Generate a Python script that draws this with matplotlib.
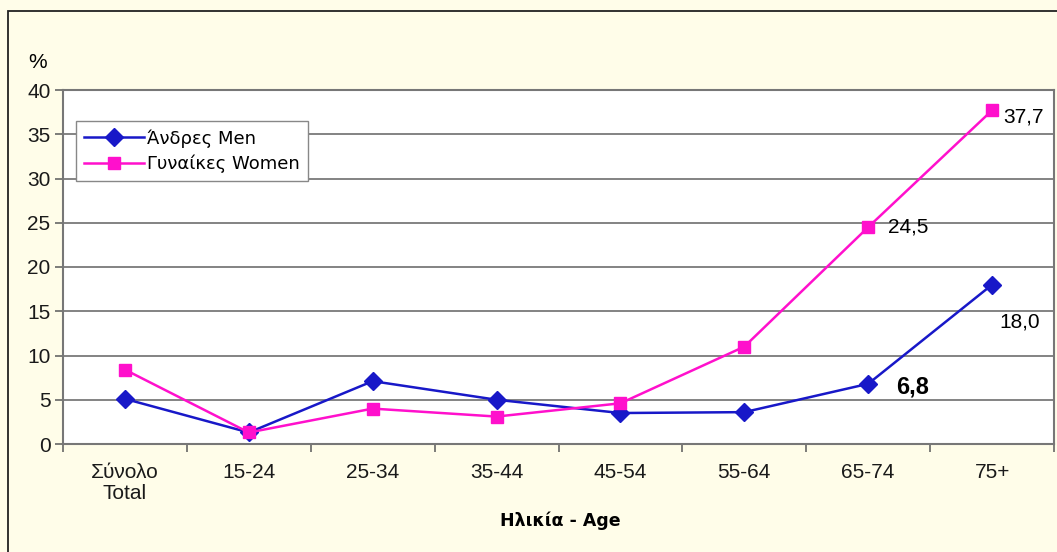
import numpy as np
import matplotlib.pyplot as plt
from matplotlib.patches import Rectangle

categories = ['Σύνολο\nTotal', '15-24', '25-34', '35-44', '45-54', '55-64', '65-74', '75+']
men = [5.1, 1.3, 7.1, 5.0, 3.5, 3.6, 6.8, 18.0]
women = [8.4, 1.3, 4.0, 3.1, 4.6, 11.0, 24.5, 37.7]
yticks = [0, 5, 10, 15, 20, 25, 30, 35, 40]

plt.rcParams['font.family'] = ['Liberation Sans', 'DejaVu Sans']

bg = '#FFFDE9'
blue = '#1818C8'
pink = '#FF10CC'
fig = plt.figure(figsize=(10.57, 5.52), dpi=100, facecolor=bg)
fig.patches.append(Rectangle((8/1057, -0.05), 1.1, 1 - 11/552 + 0.05, transform=fig.transFigure,
                             fill=False, edgecolor='#222222', linewidth=1.3))

ax = fig.add_axes([63/1057, 108/552, 991/1057, 354/552])
ax.set_facecolor('#FFFFFF')
x = np.arange(len(categories))

ax.plot(x, men, color=blue, lw=1.8, marker='D', ms=9, mfc=blue, mec=blue,
        label='Άνδρες Men', zorder=3)
ax.plot(x, women, color=pink, lw=1.8, marker='s', ms=9, mfc=pink, mec=pink,
        label='Γυναίκες Women', zorder=3)

ax.set_xlim(-0.5, len(categories) - 0.5)
ax.set_ylim(0, 40)
ax.set_yticks(yticks)
ax.set_yticklabels([str(v) for v in yticks], fontsize=15, color='#1A1A1A')
ax.set_xticks(x)
ax.set_xticklabels(categories, fontsize=15, linespacing=1.1, color='#1A1A1A')
ax.set_xticks(np.arange(len(categories) + 1) - 0.5, minor=True)
ax.tick_params(axis='x', which='major', length=0, pad=14)
ax.tick_params(axis='x', which='minor', length=6, color='#666666', width=1.2)
ax.tick_params(axis='y', length=6, color='#666666', width=1.2, pad=3)
ax.grid(axis='y', color='#7A7A7A', lw=1.3, zorder=1)
for s in ax.spines.values():
    s.set_color('#777777')
    s.set_linewidth(1.5)

# data labels
ax.annotate('37,7', (7, women[7]), xytext=(8, -5), textcoords='offset points', fontsize=15, va='center')
ax.annotate('24,5', (6, women[6]), xytext=(14, 0), textcoords='offset points', fontsize=15, va='center')
ax.annotate('18,0', (7, men[7]), xytext=(5, -27), textcoords='offset points', fontsize=15, va='center')
ax.annotate('6,8', (6, men[6]), xytext=(20, -2), textcoords='offset points', fontsize=17,
            fontweight='bold', va='center')

leg = ax.legend(loc='upper left', bbox_to_anchor=(0.004, 0.938), fancybox=False,
                framealpha=1, edgecolor='#888888', handlelength=3.3, borderpad=0.45,
                labelspacing=0.4, handletextpad=0.2, prop={'family': 'DejaVu Sans', 'size': 13})
leg.get_frame().set_linewidth(1.0)

fig.text(38/1057, 1 - 62/552, '%', fontsize=15, ha='center', va='center')
fig.text(560/1057, 1 - 521/552, 'Ηλικία - Age', fontsize=12.5, fontweight='bold', ha='center',
         va='center', family=['DejaVu Sans'])

fig.savefig('out.png', dpi=100, facecolor=bg)
